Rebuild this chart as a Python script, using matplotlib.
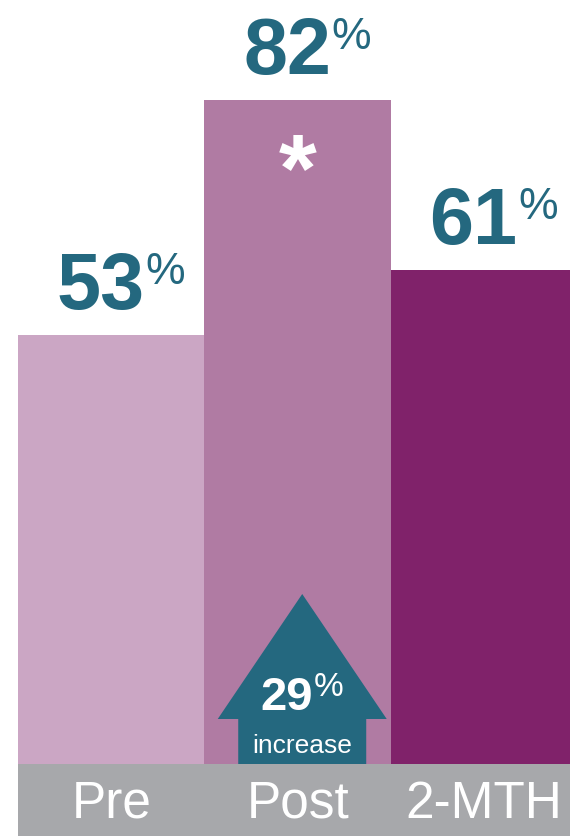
import matplotlib
matplotlib.use("Agg")
import matplotlib.pyplot as plt
from matplotlib.patches import Rectangle, FancyArrow

plt.rcParams['font.family'] = ['Liberation Sans', 'DejaVu Sans']

categories = ["Pre", "Post", "2-MTH"]
values = [53, 82, 61]
bar_colors = ["#CBA6C4", "#B07BA3", "#80226A"]
increase_pct = 29

TEAL = "#24687F"
GRAY = "#A7A8AB"

fig = plt.figure(figsize=(5.70, 8.37), dpi=100)
W, H = 570, 837

# gray band under the bars (drawn behind the axes)
fig.patches.append(Rectangle((18 / W, 0), 1 - 18 / W, 72 / H, transform=fig.transFigure,
                             facecolor=GRAY, edgecolor='none', zorder=-5))

ax = fig.add_axes([18 / W, 72 / H, 1 - 18 / W, 765 / H])
ax.set_zorder(2)

x = list(range(len(categories)))
ax.bar(x, values, width=1.0, color=bar_colors, edgecolor='none', zorder=2)
ax.set_xlim(-0.5, 2.46)
ax.set_ylim(0, 765 / 8.1)

for s in ax.spines.values():
    s.set_visible(False)
ax.set_yticks([])
ax.set_xticks(x)
ax.set_xticklabels(categories, color='white', fontsize=37)
ax.tick_params(axis='x', length=0, pad=38)
for lab in ax.get_xticklabels():
    lab.set_va('baseline')
ax.patch.set_alpha(0)

# value labels
for xi, v in zip(x, values):
    ax.annotate(f"{v}", xy=(xi, v), xytext=(24.0, 19.5), textcoords='offset points',
                ha='right', va='baseline', fontsize=57, fontweight='bold', color=TEAL,
                zorder=5)
    ax.annotate("%", xy=(xi, v), xytext=(24.5, 37.5), textcoords='offset points',
                ha='left', va='baseline', fontsize=32, color=TEAL, zorder=5)

# significance asterisk on Post
ax.annotate("*", xy=(1, values[1]), xytext=(0, -72), textcoords='offset points',
            ha='center', va='baseline', fontsize=70, fontweight='bold', color='white',
            zorder=5)

# increase arrow
px_per_unit_x = 186.5
px_per_unit_y = 8.1
cx = 1 + 4.5 / px_per_unit_x
arrow = FancyArrow(cx, 0, 0, (765 - 595) / px_per_unit_y,
                   width=128 / px_per_unit_x, head_width=169 / px_per_unit_x,
                   head_length=(720 - 595) / px_per_unit_y,
                   length_includes_head=True, color=TEAL, linewidth=0, zorder=3)
ax.add_patch(arrow)
ax.annotate(f"{increase_pct}", xy=(1, 0), xytext=(11.0, 39.6), textcoords='offset points',
            ha='right', va='baseline', fontsize=34, fontweight='bold', color='white', zorder=6)
ax.annotate("%", xy=(1, 0), xytext=(11.5, 49.5), textcoords='offset points',
            ha='left', va='baseline', fontsize=24, color='white', zorder=6)
ax.annotate("increase", xy=(1, 0), xytext=(3.2, 8.6), textcoords='offset points',
            ha='center', va='baseline', fontsize=19, color='white', zorder=6)

fig.savefig("out.png", dpi=100)
